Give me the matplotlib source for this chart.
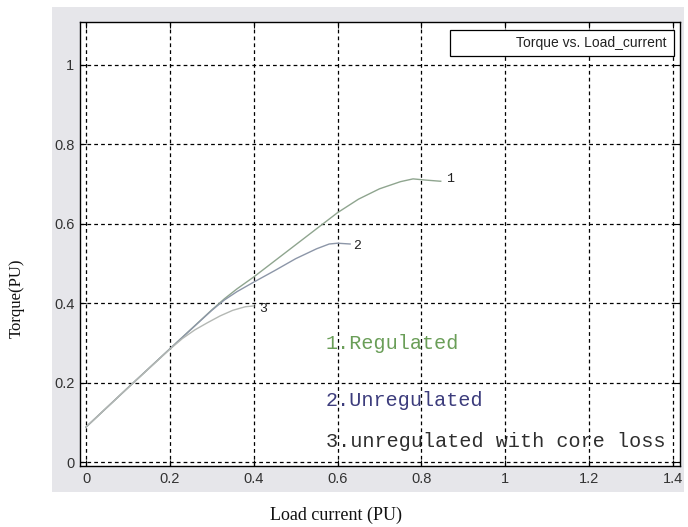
import numpy as np
import matplotlib
matplotlib.use('Agg')
from matplotlib import pyplot as plt
from matplotlib.patches import Rectangle

# Torque vs load current, three operating cases
x_reg = [0, 0.1, 0.2, 0.3, 0.33, 0.36, 0.4, 0.5, 0.6, 0.65, 0.7, 0.75, 0.78, 0.81, 0.846]
y_reg = [0.088, 0.187, 0.285, 0.383, 0.411, 0.436, 0.466, 0.547, 0.628, 0.662, 0.688, 0.706, 0.713, 0.710, 0.707]

x_unreg = [0, 0.1, 0.2, 0.3, 0.33, 0.36, 0.4, 0.45, 0.5, 0.55, 0.58, 0.6, 0.63]
y_unreg = [0.088, 0.187, 0.285, 0.382, 0.408, 0.429, 0.453, 0.482, 0.512, 0.537, 0.549, 0.551, 0.549]

x_core = [0, 0.1, 0.2, 0.23, 0.26, 0.29, 0.32, 0.35, 0.38, 0.40]
y_core = [0.088, 0.187, 0.284, 0.311, 0.333, 0.351, 0.368, 0.382, 0.391, 0.393]

xticks = [0, 0.2, 0.4, 0.6, 0.8, 1, 1.2, 1.4]
xtick_labels = ['0', '0.2', '0.4', '0.6', '0.8', '1', '1.2', '1.4']
yticks = [0, 0.2, 0.4, 0.6, 0.8, 1]
ytick_labels = ['0', '0.2', '0.4', '0.6', '0.8', '1']

case_labels = ['1.Regulated', '2.Unregulated', '3.unregulated with core loss']
case_colors = ['#6a9e58', '#3c3c7c', '#2e2e2e']

fig = plt.figure(figsize=(6.88, 5.27), dpi=100)

# grey panel behind the axes
fig.patches.append(Rectangle((0.0756, 0.0664), 0.919, 0.920, transform=fig.transFigure,
                             facecolor='#e6e6ea', edgecolor='none', zorder=0))

ax = fig.add_axes([0.1163, 0.1157, 0.8721, 0.8425])
ax.set_zorder(2)
ax.set_facecolor('white')

ax.plot(x_reg, y_reg, color='#8fa58f', lw=1.0)
ax.plot(x_unreg, y_unreg, color='#8c96a8', lw=1.0)
ax.plot(x_core, y_core, color='#b4b8b4', lw=1.0)

mono = 'Liberation Mono'
ax.text(0.858, 0.713, '1', family=mono, fontsize=9.5, color='#222222', va='center')
ax.text(0.638, 0.545, '2', family=mono, fontsize=9.5, color='#222222', va='center')
ax.text(0.413, 0.386, '3', family=mono, fontsize=9.5, color='#222222', va='center')

ax.text(0.572, 0.298, case_labels[0], family=mono, fontsize=14.5, color=case_colors[0], va='center')
ax.text(0.572, 0.154, case_labels[1], family=mono, fontsize=14.5, color=case_colors[1], va='center')
ax.text(0.572, 0.052, case_labels[2], family=mono, fontsize=14.5, color=case_colors[2], va='center')

ax.set_xlim(-0.0143, 1.4167)
ax.set_ylim(-0.0101, 1.108)
ax.set_xticks(xticks)
ax.set_xticklabels(xtick_labels)
ax.set_yticks(yticks)
ax.set_yticklabels(ytick_labels)
ax.tick_params(direction='in', length=4, width=0.8, top=True, right=True,
               labelsize=10.5, labelcolor='#333333', pad=4)
for lab in ax.get_xticklabels() + ax.get_yticklabels():
    lab.set_family('Liberation Sans')

ax.grid(True, color='black', linestyle=(0, (3, 2.5)), linewidth=0.9)
for sp in ax.spines.values():
    sp.set_linewidth(1.0)
    sp.set_color('black')

# legend box
ax.add_patch(Rectangle((0.617, 0.923), 0.373, 0.059, transform=ax.transAxes,
                       facecolor='white', edgecolor='black', lw=0.9, zorder=5))
ax.text(0.978, 0.953, 'Torque vs. Load_current', transform=ax.transAxes,
        ha='right', va='center', fontsize=10, family='Liberation Sans',
        color='#222222', zorder=6)

fig.text(336 / 688, 1 - 515 / 527, 'Load current (PU)', family='Liberation Serif',
         fontsize=13, ha='center', va='center', color='#111111')
fig.text(17 / 688, 1 - 298 / 527, 'Torque(PU)', family='Liberation Serif',
         fontsize=12, ha='center', va='center', rotation=90, color='#111111')

fig.savefig('out.png', dpi=100)
